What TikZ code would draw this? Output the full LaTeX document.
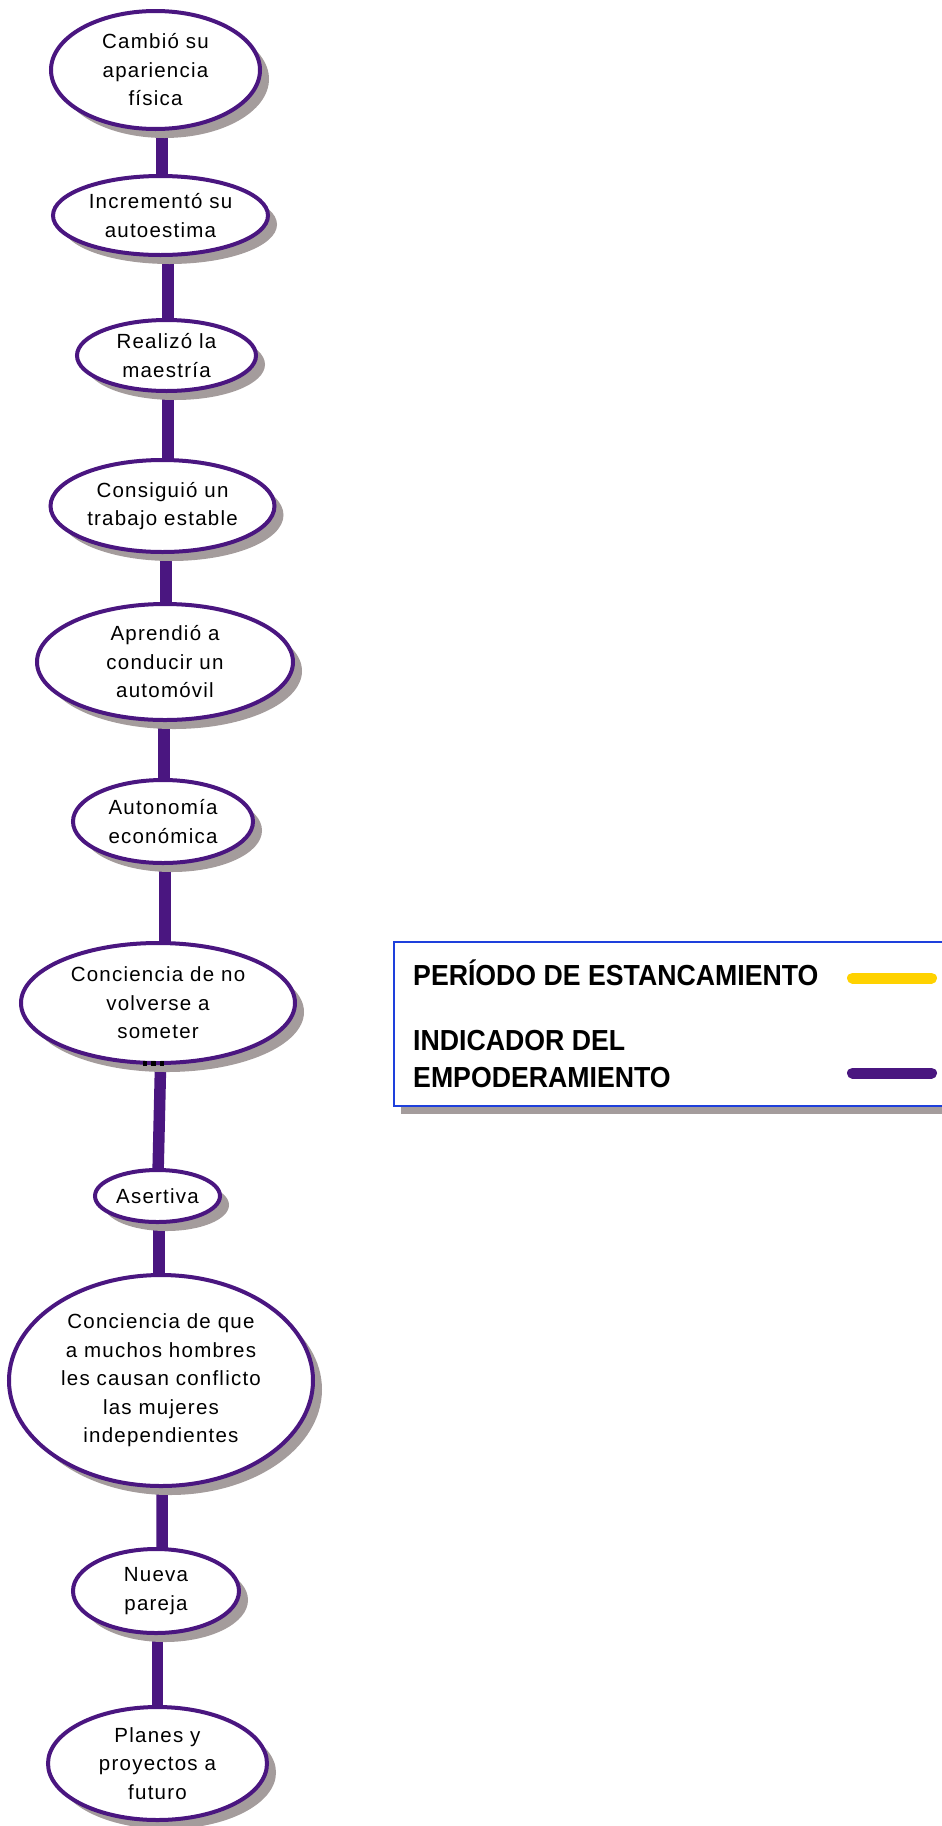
\documentclass[tikz,border=0pt]{standalone}
\usepackage{fontspec}
\setmainfont{Liberation Sans}[LetterSpace=6]
\newfontfamily\legendfont{Liberation Sans}[FakeStretch=0.92]
\usetikzlibrary{shapes.geometric,shadows,backgrounds}
\definecolor{bubbleline}{RGB}{74,22,128}
\definecolor{shadowgray}{RGB}{164,156,156}
\definecolor{legendblue}{RGB}{30,64,220}
\definecolor{stallyellow}{RGB}{255,210,0}

\begin{document}
\begin{tikzpicture}[x=1pt,y=-1pt,
  bubble/.style={ellipse, draw=bubbleline, line width=4pt, fill=white,
    inner sep=0pt, align=center, font=\fontsize{20.5}{28.5}\selectfont,
    drop shadow={shadow xshift=9pt, shadow yshift=-9pt, fill=shadowgray, opacity=1}},
  conn/.style={draw=bubbleline, line width=11.5pt},
  legendtext/.style={anchor=base west, inner sep=0pt, align=left,
    font=\legendfont\bfseries\fontsize{29}{37}\selectfont},
  swatch/.style={line width=11pt, line cap=round},
]
\useasboundingbox (0,0) rectangle (942,1826);

% timeline bubbles
\node[bubble, minimum width=209pt, minimum height=118pt] (n1) at (155.5,70) {Cambió su\\apariencia\\física};
\node[bubble, minimum width=215pt, minimum height=79pt] (n2) at (160.5,215.5) {Incrementó su\\autoestima};
\node[bubble, minimum width=179pt, minimum height=71pt] (n3) at (166.5,355.5) {Realizó la\\maestría};
\node[bubble, minimum width=224pt, minimum height=92pt] (n4) at (162.5,506) {Consiguió un\\trabajo estable};
\node[bubble, minimum width=256pt, minimum height=116pt] (n5) at (165,662) {Aprendió a\\conducir un\\automóvil};
\node[bubble, minimum width=180pt, minimum height=83pt] (n6) at (163,821.5) {Autonomía\\económica};
\node[bubble, minimum width=274pt, minimum height=120pt] (n7) at (158,1003) {Conciencia de no\\volverse a\\someter};
\node[bubble, minimum width=125pt, minimum height=52pt] (n8) at (157.5,1196) {Asertiva};
\node[bubble, minimum width=304pt, minimum height=211pt] (n9) at (161,1380.5) {Conciencia de que\\a muchos hombres\\les causan conflicto\\las mujeres\\independientes};
\node[bubble, minimum width=166pt, minimum height=84pt] (n10) at (156,1591) {Nueva\\pareja};
\node[bubble, minimum width=219pt, minimum height=113pt] (n11) at (157.5,1763.5) {Planes y\\proyectos a\\futuro};

% overflow marks under the seventh bubble
\fill[black] (142.5,1061) rectangle +(4.5,5);
\fill[black] (151,1061) rectangle +(4.5,5);
\fill[black] (159.5,1061) rectangle +(4.5,5);

% connectors behind the bubbles
\begin{scope}[on background layer]
  \draw[conn] ([xshift=6.5pt]n1.center) -- ([xshift=1.5pt]n2.center);
  \draw[conn] ([xshift=7.5pt]n2.center) -- ([xshift=1.5pt]n3.center);
  \draw[conn] ([xshift=1.5pt]n3.center) -- ([xshift=5.5pt]n4.center);
  \draw[conn] ([xshift=3.5pt]n4.center) -- ([xshift=1pt]n5.center);
  \draw[conn] ([xshift=-1pt]n5.center) -- ([xshift=1pt]n6.center);
  \draw[conn] ([xshift=2pt]n6.center) -- ([xshift=7pt]n7.center);
  \draw[conn] ([xshift=4pt]n7.center) -- ([xshift=0pt]n8.center);
  \draw[conn] ([xshift=1.5pt]n8.center) -- ([xshift=-2pt]n9.center);
  \draw[conn] ([xshift=1.5pt]n9.center) -- ([xshift=6pt]n10.center);
  \draw[conn] ([xshift=1.5pt]n10.center) -- ([xshift=0pt]n11.center);
\end{scope}

% legend
\draw[draw=legendblue, line width=2pt, fill=white,
  drop shadow={shadow xshift=7pt, shadow yshift=-8pt, fill=shadowgray, opacity=1}]
  (394,942) rectangle (980,1106);
\node[legendtext] (stall) at (413,985) {PERÍODO DE ESTANCAMIENTO};
\node[legendtext] (empower) at (413,1087) {INDICADOR DEL\\EMPODERAMIENTO};
\draw[swatch, stallyellow] (852.5,978) -- (931.5,978);
\draw[swatch, bubbleline] (852.5,1073) -- (931.5,1073);
\end{tikzpicture}
\end{document}
